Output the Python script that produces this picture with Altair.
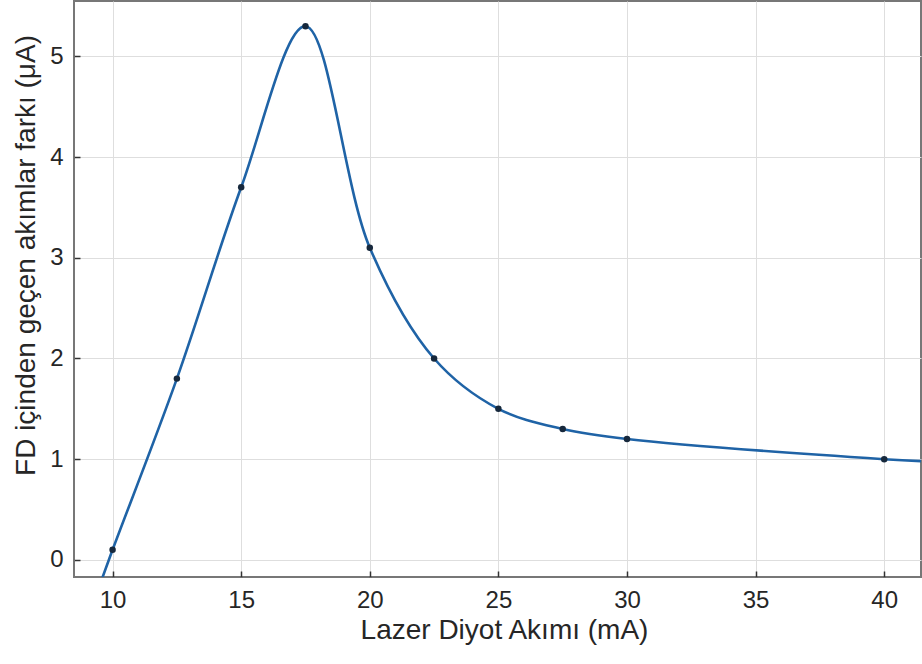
import altair as alt
import pandas as pd

# Measured points (markers)
x_pts = [10, 12.5, 15, 17.5, 20, 22.5, 25, 27.5, 30, 40]
y_pts = [0.1, 1.8, 3.7, 5.3, 3.1, 2.0, 1.5, 1.3, 1.2, 1.0]

# Curve ends (curve continues past the markers)
x_curve = [9.5] + x_pts + [41.5]
y_curve = [-0.25] + y_pts + [0.98]

x_ticks = [10, 15, 20, 25, 30, 35, 40]
y_ticks = [0, 1, 2, 3, 4, 5]

x_domain = [8.5, 41.43]
y_domain = [-0.17, 5.55]

W, H = 847, 576
FONT = "Liberation Sans"
TXT = "#262626"

pts = pd.DataFrame({"x": x_pts, "y": y_pts})
curve = pd.DataFrame({"x": x_curve, "y": y_curve})

xscale = alt.Scale(domain=x_domain, nice=False, zero=False)
yscale = alt.Scale(domain=y_domain, nice=False, zero=False)

line = alt.Chart(curve).mark_line(
    interpolate="catmull-rom", color="#1f63a6", strokeWidth=2.6, clip=True
).encode(
    x=alt.X("x:Q", scale=xscale,
            axis=alt.Axis(values=x_ticks, title="Lazer Diyot Akımı (mA)",
                          grid=True, gridColor="#dedede", gridWidth=1,
                          domain=False, ticks=False, labelPadding=11,
                          labelFont=FONT, labelFontSize=24, labelColor=TXT,
                          titleFont=FONT, titleFontSize=28, titleColor=TXT,
                          titleFontWeight="normal", titleX=430, titleY=61,
                          titleBaseline="alphabetic")),
    y=alt.Y("y:Q", scale=yscale,
            axis=alt.Axis(values=y_ticks, title="FD içinden geçen akımlar farkı (μA)",
                          grid=True, gridColor="#dedede", gridWidth=1,
                          domain=False, ticks=False, labelPadding=11,
                          labelFont=FONT, labelFontSize=24, labelColor=TXT,
                          titleFont=FONT, titleFontSize=28, titleColor=TXT,
                          titleFontWeight="normal", titleAngle=-90,
                          titleX=-48, titleY=254, titleAlign="center",
                          titleBaseline="middle")),
)

points = alt.Chart(pts).mark_circle(size=42, color="#16283c", opacity=1).encode(
    x=alt.X("x:Q", scale=xscale,
            axis=alt.Axis(values=x_ticks, orient="top", offset=-H, labels=False,
                          grid=False, domain=False, ticks=True, tickSize=6,
                          tickColor="#333333", tickWidth=1.5, title=None)),
    y=alt.Y("y:Q", scale=yscale,
            axis=alt.Axis(values=y_ticks, orient="right", offset=-W, labels=False,
                          grid=False, domain=False, ticks=True, tickSize=6,
                          tickColor="#333333", tickWidth=1.5, title=None)),
)

chart = alt.layer(line, points).resolve_axis(
    x="independent", y="independent"
).properties(
    width=W, height=H,
    autosize=alt.AutoSizeParams(type="none"),
    padding={"left": 74, "top": 1, "right": 1, "bottom": 87},
    background="white",
).configure_view(stroke="#777777", strokeWidth=2)

chart.save("out.html", embed_options={"renderer": "svg", "actions": False})
